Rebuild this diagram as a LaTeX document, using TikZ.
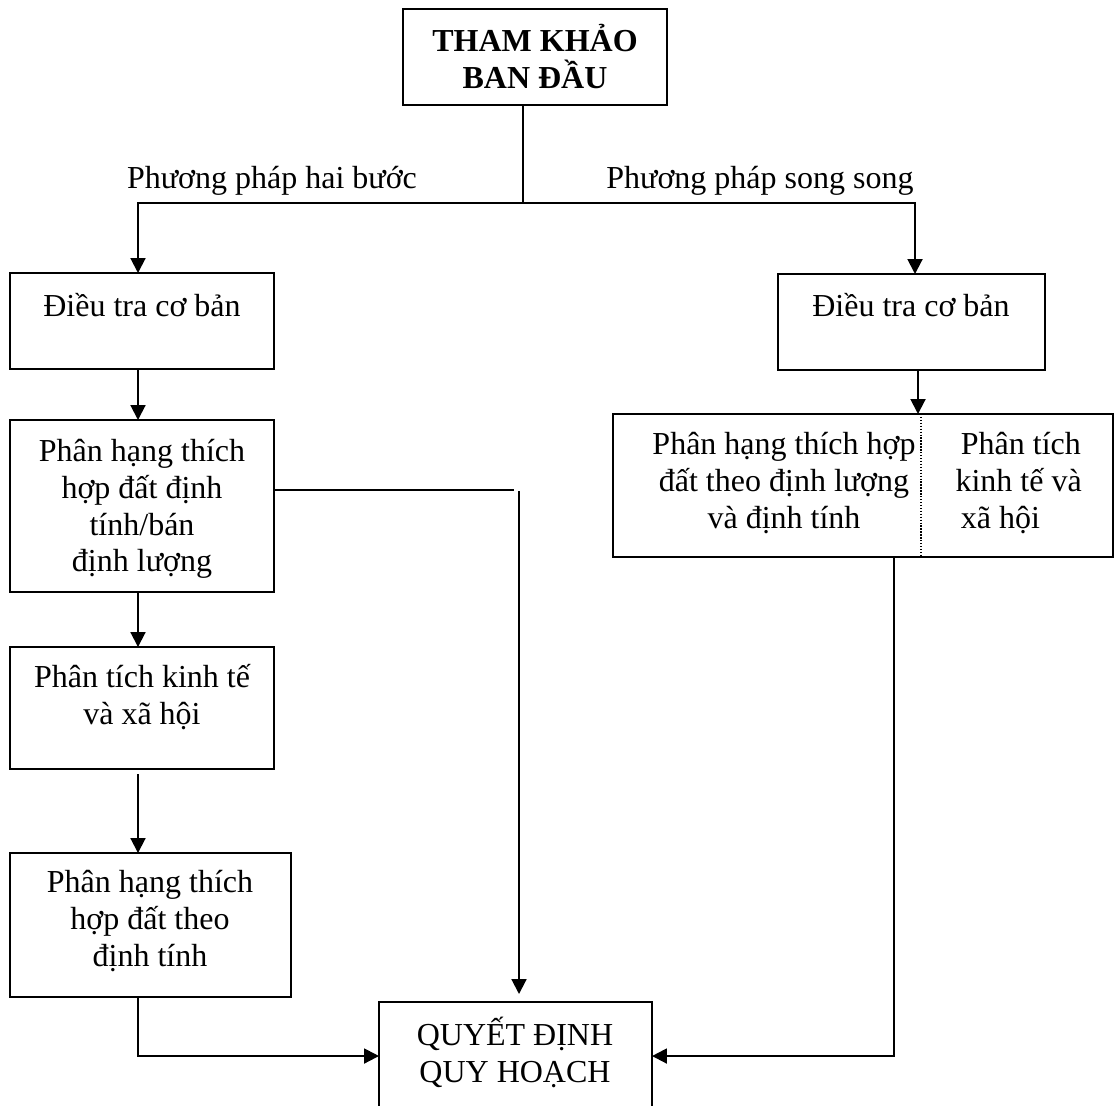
\documentclass[tikz,border=0pt]{standalone}
\usepackage{fontspec}
\setmainfont{Liberation Serif}
\usetikzlibrary{arrows.meta}
\newcommand\firstln{\rule{0pt}{12pt}}
\begin{document}
\begin{tikzpicture}[x=0.375pt, y=-0.375pt,
  every node/.style={font=\fontsize{12pt}{13.8pt}\selectfont},
  bx/.style n args={2}{draw, line width=0.75pt, inner sep=0pt, outer sep=0pt, anchor=north west,
    minimum width=#1*0.375pt, minimum height=#2*0.375pt},
  txt/.style={inner sep=0pt, align=center, anchor=north},
  ln/.style={line width=0.75pt},
  arr/.style={ln, -{Triangle[width=5.6pt,length=5.6pt]}}]
\useasboundingbox (0,0) rectangle (1115,1105);
\clip (0,0) rectangle (1115,1105);

% boxes
\node[bx={264}{96}]  (top) at (403,9) {};
\node[bx={264}{96}]  (L1)  at (10,273) {};
\node[bx={264}{172}] (L2)  at (10,420) {};
\node[bx={264}{122}] (L3)  at (10,647) {};
\node[bx={281}{144}] (L4)  at (10,853) {};
\node[bx={267}{96}]  (R1)  at (778,274) {};
\node[bx={500}{143}] (R2)  at (613,414) {};
\node[bx={273}{108}] (Q)   at (379,1002) {};

% texts
\node[txt, font=\fontsize{12pt}{13.8pt}\selectfont\bfseries] (tTop) at (535,19) {\firstln THAM KHẢO\\BAN ĐẦU};
\node[inner sep=0pt, anchor=base] (lblL) at (272,188) {Phương pháp hai bước};
\node[inner sep=0pt, anchor=base] (lblR) at (760,188) {Phương pháp song song};
\node[txt] (tL1) at (142,284) {\firstln Điều tra cơ bản};
\node[txt] (tR1) at (911,284) {\firstln Điều tra cơ bản};
\node[txt] (tL2) at (142,429) {\firstln Phân hạng thích\\hợp đất định\\tính/bán\\định lượng};
\node[txt] (tL3) at (142,655) {\firstln Phân tích kinh tế\\và xã hội};
\node[txt] (tL4) at (150,860) {\firstln Phân hạng thích\\hợp đất theo\\định tính};
\node[txt] (tR2a) at (784,422) {\firstln Phân hạng thích hợp\\đất theo định lượng\\và định tính};
\node[inner sep=0pt, align=left, anchor=north west] (tR2b) at (955,422) {\firstln\hspace*{2pt}Phân tích\\kinh tế và\\\hspace*{2pt}xã hội};
\node[txt] (tQ) at (515,1013) {\firstln QUYẾT ĐỊNH\\QUY HOẠCH};

% connectors
\coordinate (split) at (523,203);
\coordinate (lcol) at (138,203);
\coordinate (rcol) at (915,203);
\draw[ln] (top.south -| split) -- (split);
\draw[arr] (split) -| (L1.north -| lcol);
\draw[arr] (split) -| (R1.north -| rcol);

\draw[arr] (L1.south -| lcol) -- (L2.north -| lcol);
\draw[arr] (L2.south -| lcol) -- (L3.north -| lcol);
\draw[arr, shorten <=1.9pt] (L3.south -| lcol) -- (L4.north -| lcol);
\draw[arr] (L4.south -| lcol) |- (Q.west);

\coordinate (j1) at (514,490);
\coordinate (j2) at (519,491);
\draw[ln] (L2.east |- j1) -- (j1);
\draw[arr, shorten >=3pt] (j2) -- (Q.north -| j2);

\coordinate (rc2) at (918,370);
\draw[arr] (R1.south -| rc2) -- (R2.north -| rc2);
\coordinate (div) at (921,414);
\draw[line width=0.5pt, dash pattern=on 0.5pt off 0.6pt] (R2.north -| div) -- (R2.south -| div);
\coordinate (rc3) at (894,557);
\draw[arr] (R2.south -| rc3) |- (Q.east);
\end{tikzpicture}
\end{document}
